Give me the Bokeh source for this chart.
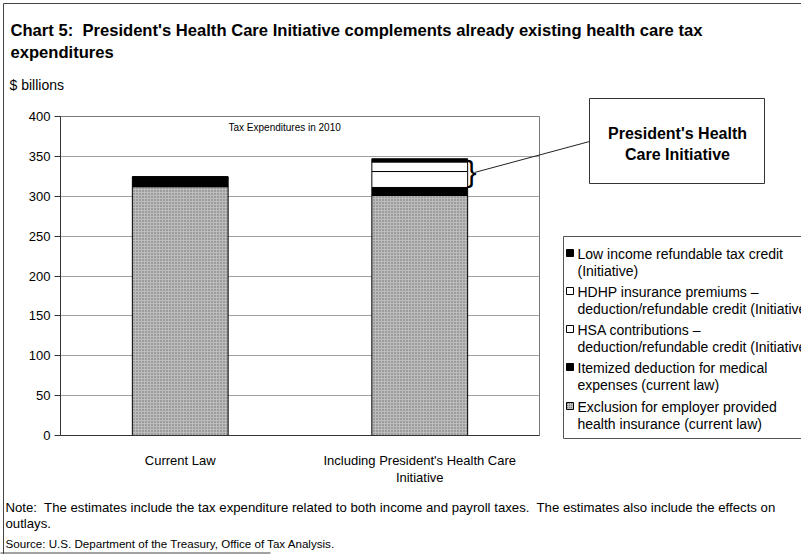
from bokeh.plotting import figure
from bokeh.models import Range1d, LinearAxis, FixedTicker
from bokeh.core.properties import value
from bokeh.embed import file_html
from bokeh.resources import INLINE

# ---------------- data ----------------
categories = ["Current Law", "Including President's Health Care Initiative"]
category_line1 = ["Current Law", "Including President's Health Care"]
category_line2 = [" ", "Initiative"]
exclusion = [312, 301]
itemized = [12, 10]
hsa = [0, 20]
hdhp = [0, 12]
low_income = [0, 4]
y_ticks = [0, 50, 100, 150, 200, 250, 300, 350, 400]

series_keys = ["exclusion", "itemized", "hsa", "hdhp", "low_income"]
legend_lines = [
    ("Low income refundable tax credit", "(Initiative)"),
    ("HDHP insurance premiums \u2013", "deduction/refundable credit (Initiative)"),
    ("HSA contributions \u2013", "deduction/refundable credit (Initiative)"),
    ("Itemized deduction for medical", "expenses (current law)"),
    ("Exclusion for employer provided", "health insurance (current law)"),
]
NB = "\u00a0"
title_line1 = "Chart 5:" + NB + " President's Health Care Initiative complements already existing health care tax"
title_line2 = "expenditures"
unit_label = "$ billions"
inner_title = "Tax Expenditures in 2010"
callout_lines = ["President's Health", "Care Initiative"]
note_line1 = ("Note:" + NB + " The estimates include the tax expenditure related to both income and payroll taxes." + NB +
              " The estimates also include the effects on")
note_line2 = "outlays."
source_text = "Source: U.S. Department of the Treasury, Office of Tax Analysis."

# ---------------- styling ----------------
FONT = "Liberation Sans"
TXT = "#000000"
FRAME = "#444444"
GREY_FILL = "#bcbcbc"
fills = [GREY_FILL, "#000000", "#ffffff", "#ffffff", "#000000"]
hatches = ["dot", " ", " ", " ", " "]

W, H = 801, 554
L, R, T, B = 60, 539, 116, 435   # plot frame in page pixels

# each category occupies 2 x-units; bars sit at the category centres
x_pos = [2 * i + 1 for i in range(len(categories))]

p = figure(width=W, height=H, x_range=Range1d(0, 2 * len(categories)),
           y_range=Range1d(0, 400), output_backend="svg", toolbar_location=None,
           x_axis_location=None, min_border_left=L, min_border_right=W - R,
           min_border_top=T, min_border_bottom=H - B, border_fill_color="#ffffff")
p.extra_x_ranges = {"px": Range1d(L, R)}
p.extra_y_ranges = {"py": Range1d(B, T)}

src = dict(x=x_pos, cat=categories, exclusion=exclusion, itemized=itemized, hsa=hsa,
           hdhp=hdhp, low_income=low_income)
p.vbar_stack(series_keys, x="x", width=0.8, source=src,
             fill_color=fills, line_color="#000000", line_width=1,
             hatch_pattern=hatches, hatch_color="#6a6a6a", hatch_scale=3,
             hatch_weight=1)

p.xgrid.grid_line_color = None
p.ygrid.grid_line_color = "#a0a0a0"
p.outline_line_color = "#777777"

p.yaxis.ticker = y_ticks
p.yaxis.major_label_text_font = FONT
p.yaxis.major_label_text_font_size = "13px"
p.yaxis.major_label_text_color = TXT
p.yaxis.major_tick_out = 6
p.yaxis.major_tick_in = 0
p.yaxis.minor_tick_line_color = None
p.yaxis.axis_line_color = "#333333"
p.yaxis.major_tick_line_color = "#333333"
p.yaxis.major_label_standoff = 4


def cat_axis(labels, standoff, line_color):
    return LinearAxis(ticker=FixedTicker(ticks=x_pos),
                      major_label_overrides={k: v for k, v in zip(x_pos, labels)},
                      major_label_text_font=FONT, major_label_text_font_size="13px",
                      major_label_text_color=TXT, axis_line_color=line_color,
                      major_tick_line_color=None, minor_tick_line_color=None,
                      major_label_standoff=standoff)


p.add_layout(cat_axis(category_line1, 11, "#333333"), "below")
p.add_layout(cat_axis(category_line2, -7, None), "below")

PAGE = dict(x_range_name="px", y_range_name="py", level="overlay")


def text(x, y, s, size, bold=False, align="left", baseline="middle"):
    p.text(x=[x], y=[y], text=[s], text_font=value(FONT), text_font_size=value(size),
           text_font_style="bold" if bold else "normal", text_align=align,
           text_baseline=baseline, text_color=TXT, **PAGE)


def seg(x0, y0, x1, y1, color="#222222"):
    p.segment(x0=[x0], y0=[y0], x1=[x1], y1=[y1], line_color=color, line_width=1, **PAGE)


# page frame lines (scan border)
seg(3, 3, W, 3, FRAME)
seg(3, 3, 3, H, FRAME)
seg(0, 552.5, 270, 552.5, FRAME)

# titles
text(10, 30, title_line1, "16.6px", bold=True)
text(10, 52, title_line2, "16.6px", bold=True)
text(9, 84, unit_label, "14px")
text(228, 127, inner_title, "10px")

# callout with brace
text(466, 171, "}", "30px")
seg(474, 172, 589, 141)
p.quad(left=[589], right=[764], top=[98], bottom=[183], fill_color="#ffffff",
       line_color="#333333", line_width=1, **PAGE)
text(677, 133, callout_lines[0], "16px", bold=True, align="center")
text(677, 154, callout_lines[1], "16px", bold=True, align="center")

# legend
p.quad(left=[563], right=[806], top=[236], bottom=[438], fill_color="#ffffff",
       line_color="#555555", line_width=1, **PAGE)
entry_y = [253, 291, 329, 367, 406]
sq_fill = ["#000000", "#ffffff", "#ffffff", "#000000", GREY_FILL]
sq_hatch = [" ", " ", " ", " ", "dot"]
p.quad(left=[566] * 5, right=[573] * 5, top=[y - 4 for y in entry_y],
       bottom=[y + 3 for y in entry_y], fill_color=sq_fill, line_color="#000000",
       hatch_pattern=sq_hatch, hatch_color="#6a6a6a", hatch_scale=2, **PAGE)
for yy, (l1, l2) in zip(entry_y, legend_lines):
    text(577, yy, l1, "14px")
    text(577, yy + 17, l2, "14px")

# notes
text(5, 507, note_line1, "13.2px")
text(5, 523, note_line2, "13.2px")
text(5, 543, source_text, "11.6px")

open("out.html", "w").write(file_html(p, INLINE))
